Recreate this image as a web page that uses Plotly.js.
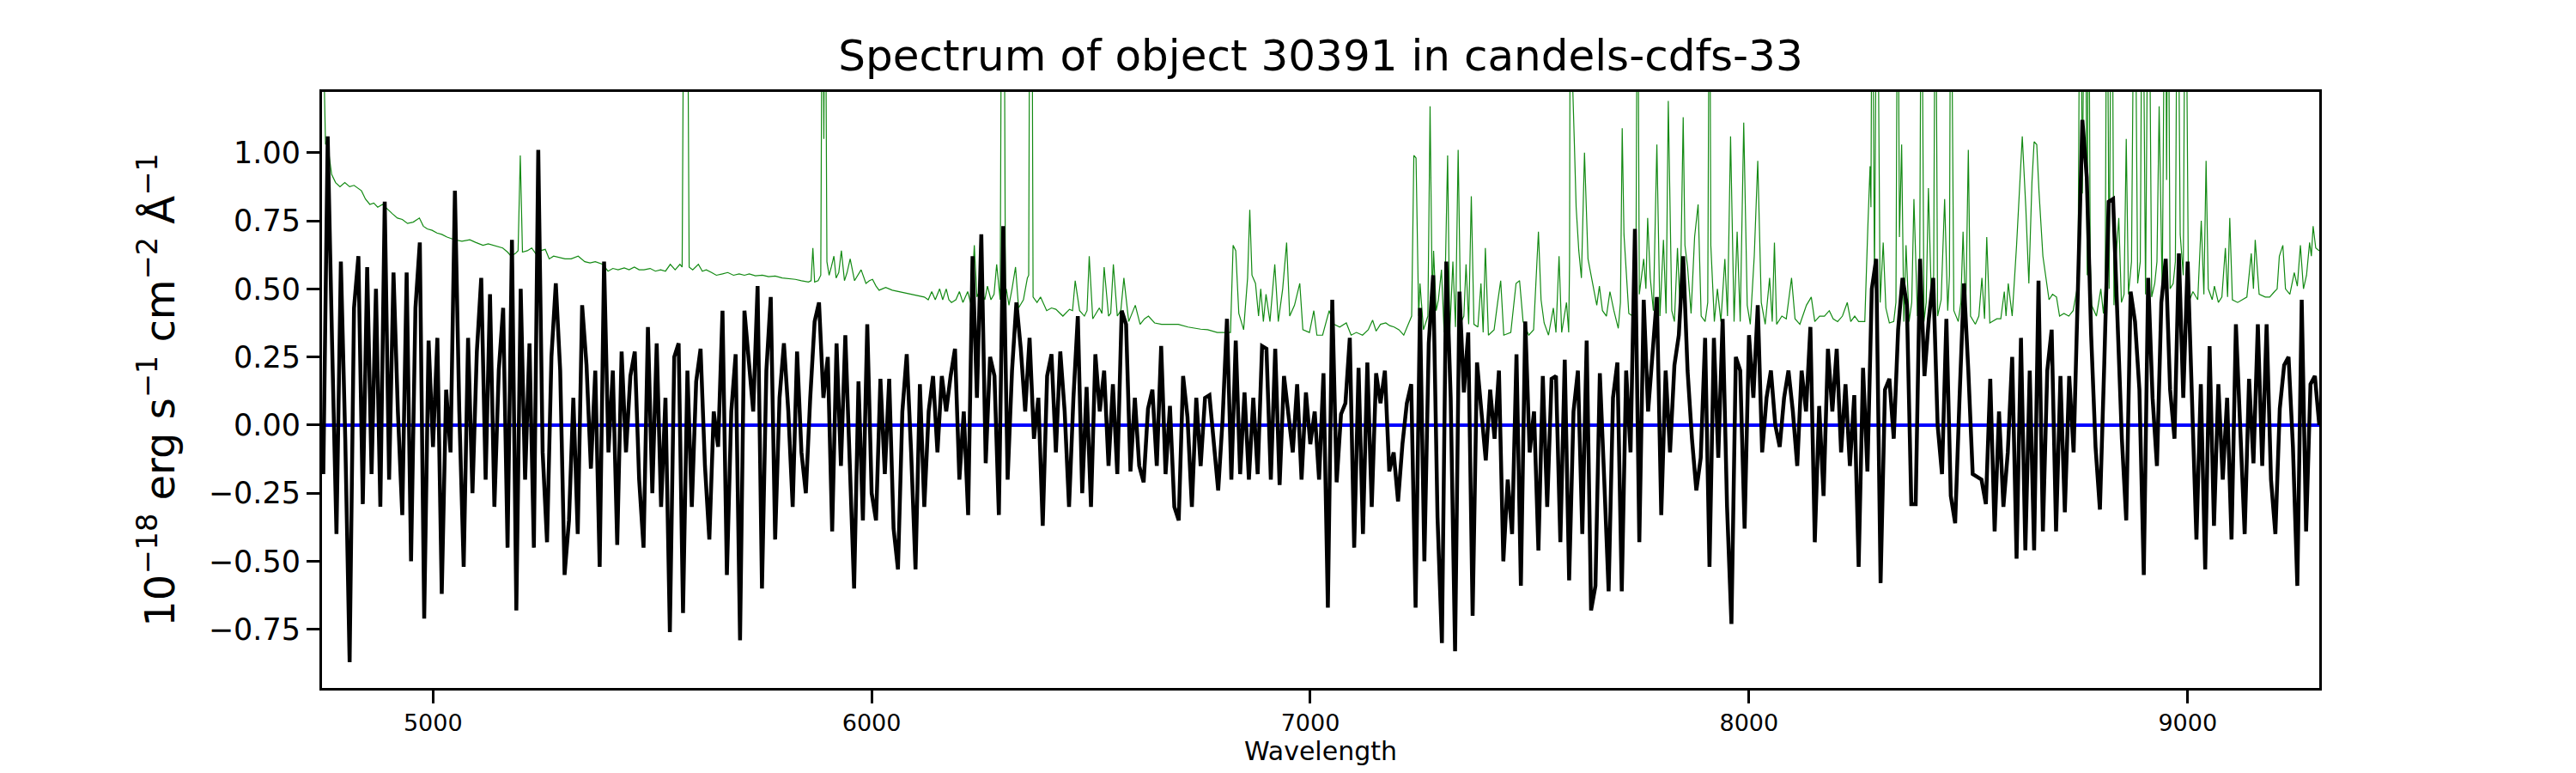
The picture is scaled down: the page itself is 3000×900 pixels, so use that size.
<!DOCTYPE html>
<html>
<head>
<meta charset="utf-8">
<script src="https://cdn.plot.ly/plotly-3.0.1.min.js"></script>
<style>
  html, body { margin: 0; padding: 0; background: #ffffff; }
  #chart { width: 3000px; height: 900px; }
</style>
</head>
<body>
<div id="chart"></div>
<script>
// Flux of the object on a regular 10 A grid, 4750..9300 (units of 1e-18)
const WAVE_START = 4750;
const WAVE_STEP = 10;
const flux = [
  -0.18, 1.06, 0.30, -0.40, 0.60, -0.05, -0.87, 0.43, 0.62, -0.29,
  0.58, -0.18, 0.50, -0.30, 0.82, -0.20, 0.56, 0.05, -0.33, 0.56,
  -0.50, 0.43, 0.67, -0.71, 0.31, -0.08, 0.32, -0.62, 0.13, -0.10,
  0.86, 0.05, -0.52, 0.32, -0.25, 0.27, 0.54, -0.20, 0.48, -0.30,
  0.20, 0.43, -0.45, 0.68, -0.68, 0.50, -0.20, 0.30, -0.45, 1.01,
  -0.10, -0.43, 0.25, 0.52, 0.20, -0.55, -0.35, 0.10, -0.40, 0.44,
  0.22, -0.16, 0.20, -0.52, 0.60, -0.10, 0.20, -0.44, 0.27, -0.10,
  0.18, 0.27, -0.20, -0.45, 0.36, -0.25, 0.30, -0.30, 0.10, -0.76,
  0.25, 0.30, -0.69, 0.20, -0.30, 0.16, 0.28, -0.15, -0.42, 0.05,
  -0.08, 0.42, -0.55, 0.05, 0.26, -0.79, 0.42, 0.23, 0.05, 0.51,
  -0.60, 0.20, 0.47, -0.42, 0.10, 0.30, 0.05, -0.30, 0.27, -0.10,
  -0.25, 0.10, 0.38, 0.45, 0.10, 0.25, -0.39, 0.30, -0.15, 0.33,
  -0.10, -0.60, 0.16, -0.35, 0.37, -0.25, -0.35, 0.17, -0.18, 0.17,
  -0.38, -0.53, 0.05, 0.26, -0.10, -0.53, 0.15, -0.30, 0.05, 0.18,
  -0.10, 0.18, 0.05, 0.18, 0.28, -0.20, 0.05, -0.33, 0.62, 0.10,
  0.70, -0.14, 0.25, 0.18, -0.33, 0.73, -0.20, 0.20, 0.45, 0.28,
  0.05, 0.32, -0.05, 0.10, -0.37, 0.18, 0.26, -0.10, 0.27, 0.05,
  -0.30, 0.10, 0.40, -0.25, 0.14, -0.30, 0.26, 0.05, 0.20, -0.15,
  0.15, -0.18, 0.42, 0.37, -0.17, 0.10, -0.15, -0.21, 0.06, 0.13,
  -0.15, 0.29, -0.18, 0.07, -0.30, -0.35, 0.18, 0.03, -0.30, 0.10,
  -0.15, 0.10, 0.11, -0.05, -0.24, 0.02, 0.39, -0.20, 0.31, -0.18,
  0.12, -0.20, 0.10, -0.18, 0.29, 0.28, -0.20, 0.28, -0.22, 0.18,
  0.05, -0.10, 0.15, -0.20, 0.12, -0.07, 0.05, -0.20, 0.19, -0.67,
  0.46, -0.21, 0.04, 0.08, 0.32, -0.45, 0.21, -0.40, 0.23, -0.30,
  0.19, 0.08, 0.20, -0.17, -0.10, -0.28, -0.07, 0.08, 0.15, -0.67,
  0.43, -0.50, 0.30, 0.55, -0.34, -0.80, 0.60, 0.10, -0.83, 0.49,
  0.12, 0.34, -0.70, 0.23, 0.05, -0.13, 0.13, -0.05, 0.20, -0.50,
  -0.20, -0.40, 0.26, -0.59, 0.38, -0.10, 0.05, -0.46, 0.18, -0.30,
  0.17, 0.18, -0.43, 0.24, -0.57, 0.05, 0.20, -0.40, 0.31, -0.68,
  -0.59, 0.19, -0.20, -0.61, 0.10, 0.23, -0.61, 0.20, -0.10, 0.72,
  -0.43, 0.46, 0.05, 0.25, 0.47, -0.33, 0.20, -0.10, 0.22, 0.33,
  0.62, 0.20, -0.05, -0.24, -0.12, 0.32, -0.52, 0.32, -0.12, 0.39,
  -0.30, -0.73, 0.25, 0.20, -0.38, 0.33, 0.10, 0.44, -0.10, 0.10,
  0.20, 0.00, -0.08, 0.10, 0.20, 0.05, -0.15, 0.20, 0.05, 0.36,
  -0.43, 0.07, -0.26, 0.28, 0.05, 0.28, -0.10, 0.15, -0.15, 0.11,
  -0.52, 0.21, -0.17, 0.50, 0.61, -0.58, 0.13, 0.17, -0.05, 0.35,
  0.54, 0.44, -0.29, -0.29, 0.61, 0.18, 0.39, 0.54, 0.00, -0.18,
  0.39, -0.26, -0.36, 0.10, 0.52, 0.20, -0.18, -0.19, -0.20, -0.29,
  0.17, -0.39, 0.05, -0.30, -0.10, 0.25, -0.49, 0.32, -0.46, 0.20,
  -0.46, 0.53, -0.39, 0.20, 0.35, -0.39, 0.18, -0.32, 0.18, -0.10,
  0.53, 1.12, 0.91, 0.33, -0.08, -0.31, 0.23, 0.82, 0.83, 0.38,
  -0.05, -0.35, 0.49, 0.38, 0.13, -0.55, 0.54, 0.10, -0.15, 0.45,
  0.61, 0.13, -0.05, 0.63, 0.10, 0.60, 0.08, -0.42, 0.15, -0.53,
  0.29, -0.37, 0.15, -0.20, 0.10, -0.42, 0.37, -0.05, -0.40, 0.17,
  -0.14, 0.37, -0.15, 0.37, -0.20, -0.40, 0.06, 0.22, 0.25, -0.08,
  -0.59, 0.46, -0.39, 0.15, 0.18, 0.00
];
const wave = flux.map((_, i) => WAVE_START + i * WAVE_STEP);

// Noise / sky spectrum, sampled where it changes
const skyWave = [
  4747, 4751, 4755, 4760, 4764, 4769, 4778, 4788, 4799, 4810, 4820, 4828, 4837, 4846, 4856, 4865,
  4874, 4885, 4897, 4908, 4919, 4930, 4942, 4955, 4969, 4978, 4987, 4998, 5009, 5020, 5032, 5041,
  5050, 5066, 5084, 5098, 5114, 5126, 5137, 5148, 5159, 5170, 5178, 5188, 5194, 5199, 5204, 5215,
  5225, 5234, 5245, 5256, 5265, 5275, 5288, 5301, 5315, 5331, 5346, 5358, 5370, 5387, 5399, 5410,
  5422, 5436, 5447, 5459, 5470, 5481, 5495, 5507, 5519, 5530, 5541, 5552, 5563, 5568, 5576, 5584,
  5592, 5605, 5614, 5623, 5635, 5646, 5660, 5672, 5685, 5698, 5710, 5721, 5735, 5751, 5765, 5780,
  5796, 5811, 5826, 5840, 5856, 5862, 5866, 5870, 5878, 5884, 5888, 5891, 5894, 5898, 5903, 5908,
  5914, 5919, 5925, 5931, 5938, 5944, 5951, 5961, 5968, 5976, 5987, 5995, 6002, 6010, 6017, 6032,
  6047, 6062, 6077, 6092, 6110, 6120, 6129, 6137, 6145, 6155, 6162, 6170, 6176, 6182, 6192, 6200,
  6208, 6219, 6227, 6234, 6240, 6248, 6258, 6264, 6272, 6279, 6285, 6293, 6299, 6305, 6307, 6313,
  6320, 6328, 6335, 6346, 6355, 6358, 6363, 6368, 6377, 6385, 6399, 6410, 6420, 6436, 6451, 6458,
  6464, 6474, 6485, 6491, 6496, 6504, 6519, 6525, 6530, 6540, 6545, 6551, 6560, 6568, 6575, 6586,
  6601, 6612, 6622, 6631, 6645, 6661, 6680, 6699, 6721, 6736, 6750, 6766, 6788, 6803, 6818, 6824,
  6830, 6837, 6848, 6857, 6862, 6867, 6875, 6882, 6887, 6893, 6899, 6908, 6919, 6927, 6937, 6946,
  6953, 6964, 6976, 6983, 6998, 7008, 7015, 7028, 7043, 7054, 7067, 7082, 7093, 7105, 7119, 7132,
  7142, 7150, 7160, 7172, 7181, 7191, 7202, 7213, 7224, 7231, 7236, 7241, 7247, 7250, 7258, 7268,
  7273, 7278, 7281, 7287, 7292, 7299, 7305, 7313, 7318, 7325, 7331, 7337, 7343, 7350, 7355, 7361,
  7367, 7373, 7382, 7389, 7394, 7399, 7406, 7419, 7427, 7434, 7441, 7457, 7469, 7477, 7485, 7498,
  7509, 7520, 7526, 7533, 7543, 7554, 7560, 7567, 7573, 7584, 7589, 7591, 7594, 7598, 7602, 7606,
  7612, 7618, 7625, 7633, 7640, 7648, 7653, 7659, 7666, 7675, 7683, 7692, 7702, 7707, 7711, 7715,
  7719, 7726, 7735, 7742, 7746, 7750, 7760, 7765, 7769, 7775, 7782, 7790, 7797, 7805, 7811, 7816,
  7824, 7830, 7837, 7843, 7850, 7854, 7860, 7868, 7876, 7884, 7891, 7900, 7906, 7910, 7913, 7921,
  7928, 7936, 7945, 7951, 7958, 7966, 7973, 7980, 7988, 7996, 8003, 8012, 8020, 8028, 8037, 8047,
  8053, 8058, 8063, 8075, 8085, 8097, 8105, 8116, 8131, 8142, 8150, 8161, 8172, 8183, 8192, 8202,
  8213, 8224, 8232, 8241, 8250, 8264, 8271, 8276, 8278, 8281, 8286, 8292, 8299, 8306, 8312, 8320,
  8330, 8335, 8339, 8343, 8348, 8353, 8358, 8365, 8371, 8376, 8384, 8389, 8393, 8399, 8404, 8409,
  8416, 8421, 8425, 8430, 8438, 8446, 8453, 8457, 8460, 8467, 8477, 8483, 8488, 8494, 8500, 8505,
  8516, 8524, 8531, 8537, 8542, 8549, 8565, 8574, 8582, 8586, 8591, 8600, 8610, 8617, 8623, 8631,
  8638, 8645, 8650, 8656, 8661, 8670, 8677, 8684, 8692, 8701, 8708, 8718, 8729, 8739, 8750, 8755,
  8760, 8766, 8771, 8774, 8778, 8781, 8792, 8802, 8808, 8812, 8816, 8821, 8827, 8832, 8837, 8843,
  8849, 8855, 8860, 8865, 8872, 8879, 8886, 8892, 8897, 8904, 8911, 8918, 8925, 8930, 8935, 8942,
  8949, 8952, 8955, 8960, 8967, 8972, 8977, 8983, 8990, 8995, 9002, 9012, 9023, 9031, 9037, 9042,
  9047, 9056, 9061, 9070, 9078, 9086, 9091, 9096, 9102, 9114, 9125, 9135, 9145, 9150, 9154, 9163,
  9177, 9187, 9198, 9204, 9209, 9217, 9223, 9233, 9243, 9250, 9257, 9264, 9271, 9278, 9282, 9286,
  9292, 9300
];
const skyFlux = [
  1.40, 1.35, 1.03, 1.05, 0.98, 0.92, 0.89, 0.875, 0.89, 0.875, 0.88, 0.87, 0.86, 0.83, 0.81, 0.815,
  0.80, 0.81, 0.79, 0.775, 0.76, 0.755, 0.74, 0.745, 0.76, 0.73, 0.72, 0.715, 0.705, 0.70, 0.69, 0.685,
  0.68, 0.675, 0.68, 0.67, 0.66, 0.665, 0.66, 0.655, 0.65, 0.635, 0.62, 0.63, 0.64, 0.99, 0.635, 0.64,
  0.65, 0.63, 0.64, 0.645, 0.61, 0.62, 0.615, 0.61, 0.61, 0.62, 0.60, 0.595, 0.60, 0.59, 0.565, 0.575,
  0.57, 0.577, 0.57, 0.58, 0.57, 0.57, 0.575, 0.565, 0.57, 0.565, 0.59, 0.57, 0.59, 0.58, 3.0, 0.58,
  0.57, 0.59, 0.565, 0.57, 0.56, 0.55, 0.555, 0.56, 0.55, 0.555, 0.55, 0.555, 0.548, 0.55, 0.545, 0.547,
  0.54, 0.538, 0.535, 0.53, 0.525, 0.53, 0.65, 0.525, 0.53, 0.55, 2.0, 1.05, 2.0, 0.60, 0.55, 0.58,
  0.62, 0.54, 0.56, 0.64, 0.53, 0.56, 0.61, 0.53, 0.55, 0.57, 0.52, 0.53, 0.535, 0.51, 0.495, 0.505,
  0.495, 0.49, 0.485, 0.48, 0.475, 0.47, 0.46, 0.49, 0.46, 0.50, 0.46, 0.50, 0.46, 0.45, 0.46, 0.49,
  0.45, 0.49, 0.44, 0.66, 0.47, 0.50, 0.46, 0.51, 0.46, 0.48, 0.59, 0.46, 3.0, 0.48, 0.50, 0.44,
  0.50, 0.58, 0.43, 0.46, 0.54, 0.55, 3.0, 0.47, 0.45, 0.47, 0.42, 0.43, 0.425, 0.40, 0.425, 0.42,
  0.53, 0.42, 0.40, 0.42, 0.62, 0.39, 0.43, 0.41, 0.58, 0.40, 0.41, 0.59, 0.40, 0.42, 0.54, 0.38,
  0.44, 0.37, 0.39, 0.40, 0.375, 0.37, 0.37, 0.37, 0.36, 0.355, 0.352, 0.35, 0.34, 0.34, 0.34, 0.66,
  0.64, 0.41, 0.35, 0.54, 0.79, 0.55, 0.52, 0.40, 0.50, 0.38, 0.48, 0.38, 0.59, 0.38, 0.50, 0.67,
  0.40, 0.44, 0.52, 0.35, 0.34, 0.42, 0.33, 0.33, 0.42, 0.37, 0.36, 0.375, 0.33, 0.34, 0.33, 0.35,
  0.385, 0.345, 0.37, 0.375, 0.365, 0.36, 0.35, 0.33, 0.37, 0.40, 0.99, 0.98, 0.40, 0.52, 0.35, 0.40,
  1.17, 0.45, 0.64, 0.42, 0.46, 0.57, 0.34, 0.99, 0.34, 0.60, 0.36, 1.01, 0.375, 0.40, 0.59, 0.37,
  0.84, 0.37, 0.36, 0.52, 0.34, 0.65, 0.33, 0.35, 0.45, 0.53, 0.33, 0.34, 0.52, 0.53, 0.38, 0.33,
  0.35, 0.71, 0.46, 0.375, 0.33, 0.43, 0.34, 0.62, 0.34, 0.45, 0.34, 0.60, 3.0, 1.25, 1.03, 0.80,
  0.64, 0.54, 1.00, 0.61, 0.55, 0.48, 0.44, 0.51, 0.42, 0.40, 0.49, 0.42, 0.355, 0.45, 1.09, 0.70,
  0.59, 0.41, 0.40, 0.45, 2.0, 0.48, 0.61, 0.50, 0.76, 0.54, 0.42, 1.03, 0.40, 0.68, 0.41, 1.19,
  0.42, 0.38, 0.65, 0.42, 1.13, 0.66, 0.58, 0.41, 0.69, 0.81, 0.40, 0.38, 0.45, 2.0, 0.66, 0.38,
  0.50, 0.38, 0.61, 0.40, 1.06, 0.38, 0.71, 0.38, 1.11, 0.44, 0.37, 0.62, 0.97, 0.45, 0.37, 0.54,
  0.38, 0.67, 0.37, 0.40, 0.39, 0.54, 0.39, 0.37, 0.44, 0.47, 0.38, 0.40, 0.40, 0.42, 0.39, 0.38,
  0.40, 0.45, 0.38, 0.40, 0.38, 0.38, 0.73, 0.95, 0.80, 2.0, 0.52, 2.0, 0.45, 0.67, 0.43, 0.375,
  0.38, 0.45, 2.0, 0.69, 1.03, 0.38, 0.66, 0.38, 0.45, 0.83, 0.40, 0.50, 2.0, 0.38, 0.45, 0.87,
  0.45, 0.55, 2.0, 0.40, 0.46, 0.83, 0.42, 0.55, 2.0, 0.42, 0.38, 0.45, 0.71, 0.40, 1.01, 0.40,
  0.37, 0.40, 0.54, 0.39, 0.69, 0.375, 0.39, 0.39, 0.49, 0.40, 0.52, 0.40, 0.66, 0.90, 1.06, 0.80,
  0.52, 0.89, 1.04, 1.03, 0.86, 0.62, 0.54, 0.46, 0.48, 0.47, 0.40, 0.41, 0.40, 0.42, 0.52, 2.0,
  0.85, 2.0, 0.55, 2.0, 0.60, 0.44, 0.40, 0.50, 0.41, 0.50, 2.0, 0.50, 2.0, 0.44, 0.62, 0.76,
  0.45, 0.48, 1.05, 0.48, 0.60, 2.0, 0.52, 0.60, 2.0, 0.48, 2.0, 0.47, 0.52, 0.60, 1.17, 0.48,
  2.0, 0.90, 2.0, 0.50, 0.52, 0.60, 2.0, 0.70, 0.55, 2.0, 0.45, 0.49, 0.46, 0.75, 0.48, 0.97,
  0.50, 0.46, 0.51, 0.45, 0.47, 0.65, 0.47, 0.76, 0.46, 0.45, 0.46, 0.47, 0.63, 0.50, 0.68, 0.48,
  0.47, 0.47, 0.49, 0.50, 0.62, 0.66, 0.50, 0.48, 0.56, 0.51, 0.66, 0.50, 0.55, 0.67, 0.62, 0.73,
  0.65, 0.64
];

const xRange = [4747, 9300];
const yRange = [-0.965, 1.223];
const titleText = 'Spectrum of object 30391 in candels-cdfs-33';
const yLabel = '10<sup>\u221218</sup> erg s<sup>\u22121</sup> cm<sup>\u22122</sup> \u00c5<sup>\u22121</sup>';

const font = 'DejaVu Sans, sans-serif';

const skyTrace = {
  x: skyWave,
  y: skyFlux,
  type: 'scatter',
  mode: 'lines',
  line: { color: '#138a13', width: 1.2 },
  hoverinfo: 'skip',
};

const fluxTrace = {
  x: wave,
  y: flux,
  type: 'scatter',
  mode: 'lines',
  line: { color: '#000000', width: 4.5 },
  hoverinfo: 'skip',
};

const layout = {
  width: 3000,
  height: 900,
  margin: { l: 375, r: 299, t: 107, b: 99 },
  paper_bgcolor: '#ffffff',
  plot_bgcolor: '#ffffff',
  showlegend: false,
  font: { family: font, color: '#000000' },
  title: {
    text: titleText,
    font: { family: font, size: 50, color: '#000000' },
    xref: 'paper',
    x: 0.5,
    xanchor: 'center',
    yref: 'container',
    y: 0.928,
    yanchor: 'middle',
  },
  xaxis: {
    range: xRange,
    title: { text: 'Wavelength', font: { family: font, size: 30 }, standoff: 6 },
    tickmode: 'linear',
    tick0: 5000,
    dtick: 1000,
    tickformat: 'd',
    tickfont: { family: font, size: 27 },
    ticks: 'outside',
    ticklen: 15,
    tickwidth: 3,
    tickcolor: '#000000',
    showline: true,
    mirror: true,
    linecolor: '#000000',
    linewidth: 3,
    showgrid: false,
    zeroline: false,
  },
  yaxis: {
    range: yRange,
    title: { text: yLabel, font: { family: font, size: 48 }, standoff: 24 },
    tickmode: 'linear',
    tick0: 0,
    dtick: 0.25,
    tickformat: '.2f',
    tickfont: { family: font, size: 35 },
    ticks: 'outside',
    ticklen: 15,
    tickwidth: 3,
    tickcolor: '#000000',
    showline: true,
    mirror: true,
    linecolor: '#000000',
    linewidth: 3,
    showgrid: false,
    zeroline: true,
    zerolinecolor: '#0000ff',
    zerolinewidth: 4,
  },
};

Plotly.newPlot('chart', [skyTrace, fluxTrace], layout, { staticPlot: true, displayModeBar: false });
</script>
</body>
</html>
